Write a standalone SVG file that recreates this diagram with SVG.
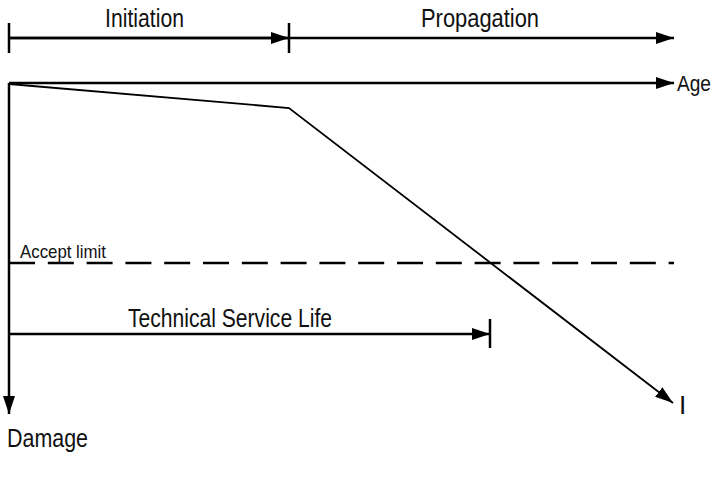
<svg xmlns="http://www.w3.org/2000/svg" width="717" height="477" viewBox="0 0 717 477">
<style>
.ln{stroke:#000;stroke-width:2.5;fill:none}
.thin{stroke:#000;stroke-width:1.8;fill:none}
.dash{stroke:#000;stroke-width:2.5;fill:none;stroke-dasharray:26 12.8}
.t{font-family:"Liberation Sans",Arial,sans-serif;font-size:26px;fill:#111}
.s{font-family:"Liberation Sans",Arial,sans-serif;font-size:19px;fill:#111}
</style>
<defs>
<marker id="ah" markerUnits="userSpaceOnUse" markerWidth="18" markerHeight="12" refX="18" refY="6" orient="auto">
<path d="M0,0 L18,6 L0,12 z" fill="#000"/>
</marker>
</defs>
<rect width="717" height="477" fill="#fff"/>
<g id="connectors">
<line class="ln" x1="9" y1="38" x2="674" y2="38" marker-end="url(#ah)"/>
<line class="ln" x1="9" y1="38" x2="289" y2="38" marker-end="url(#ah)"/>
<line class="ln" x1="9" y1="23" x2="9" y2="53"/>
<line class="ln" x1="289" y1="23" x2="289" y2="53"/>
<line class="ln" x1="9" y1="83" x2="674" y2="83" marker-end="url(#ah)"/>
<line class="ln" x1="9" y1="83" x2="9" y2="414" marker-end="url(#ah)"/>
<polyline class="thin" points="9,84 289,108 673,403" marker-end="url(#ah)"/>
<line class="dash" x1="9" y1="263" x2="674" y2="263"/>
<line class="ln" x1="9" y1="334" x2="490" y2="334" marker-end="url(#ah)"/>
<line class="ln" x1="490" y1="319" x2="490" y2="348"/>
</g>
<g id="initiation"><text class="t" x="105" y="27" textLength="79" lengthAdjust="spacingAndGlyphs">Initiation</text></g>
<g id="propagation"><text class="t" x="421" y="27" textLength="118" lengthAdjust="spacingAndGlyphs">Propagation</text></g>
<g id="age"><text class="t" style="font-size:22px" x="677" y="91" textLength="34" lengthAdjust="spacingAndGlyphs">Age</text></g>
<g id="accept-limit"><text class="s" x="20" y="258" textLength="86" lengthAdjust="spacingAndGlyphs">Accept limit</text></g>
<g id="technical-service-life"><text class="t" x="128" y="327" textLength="204" lengthAdjust="spacingAndGlyphs">Technical Service Life</text></g>
<g id="i-label"><text class="t" x="679" y="414">I</text></g>
<g id="damage"><text class="t" x="7" y="447" textLength="81" lengthAdjust="spacingAndGlyphs">Damage</text></g>
</svg>
